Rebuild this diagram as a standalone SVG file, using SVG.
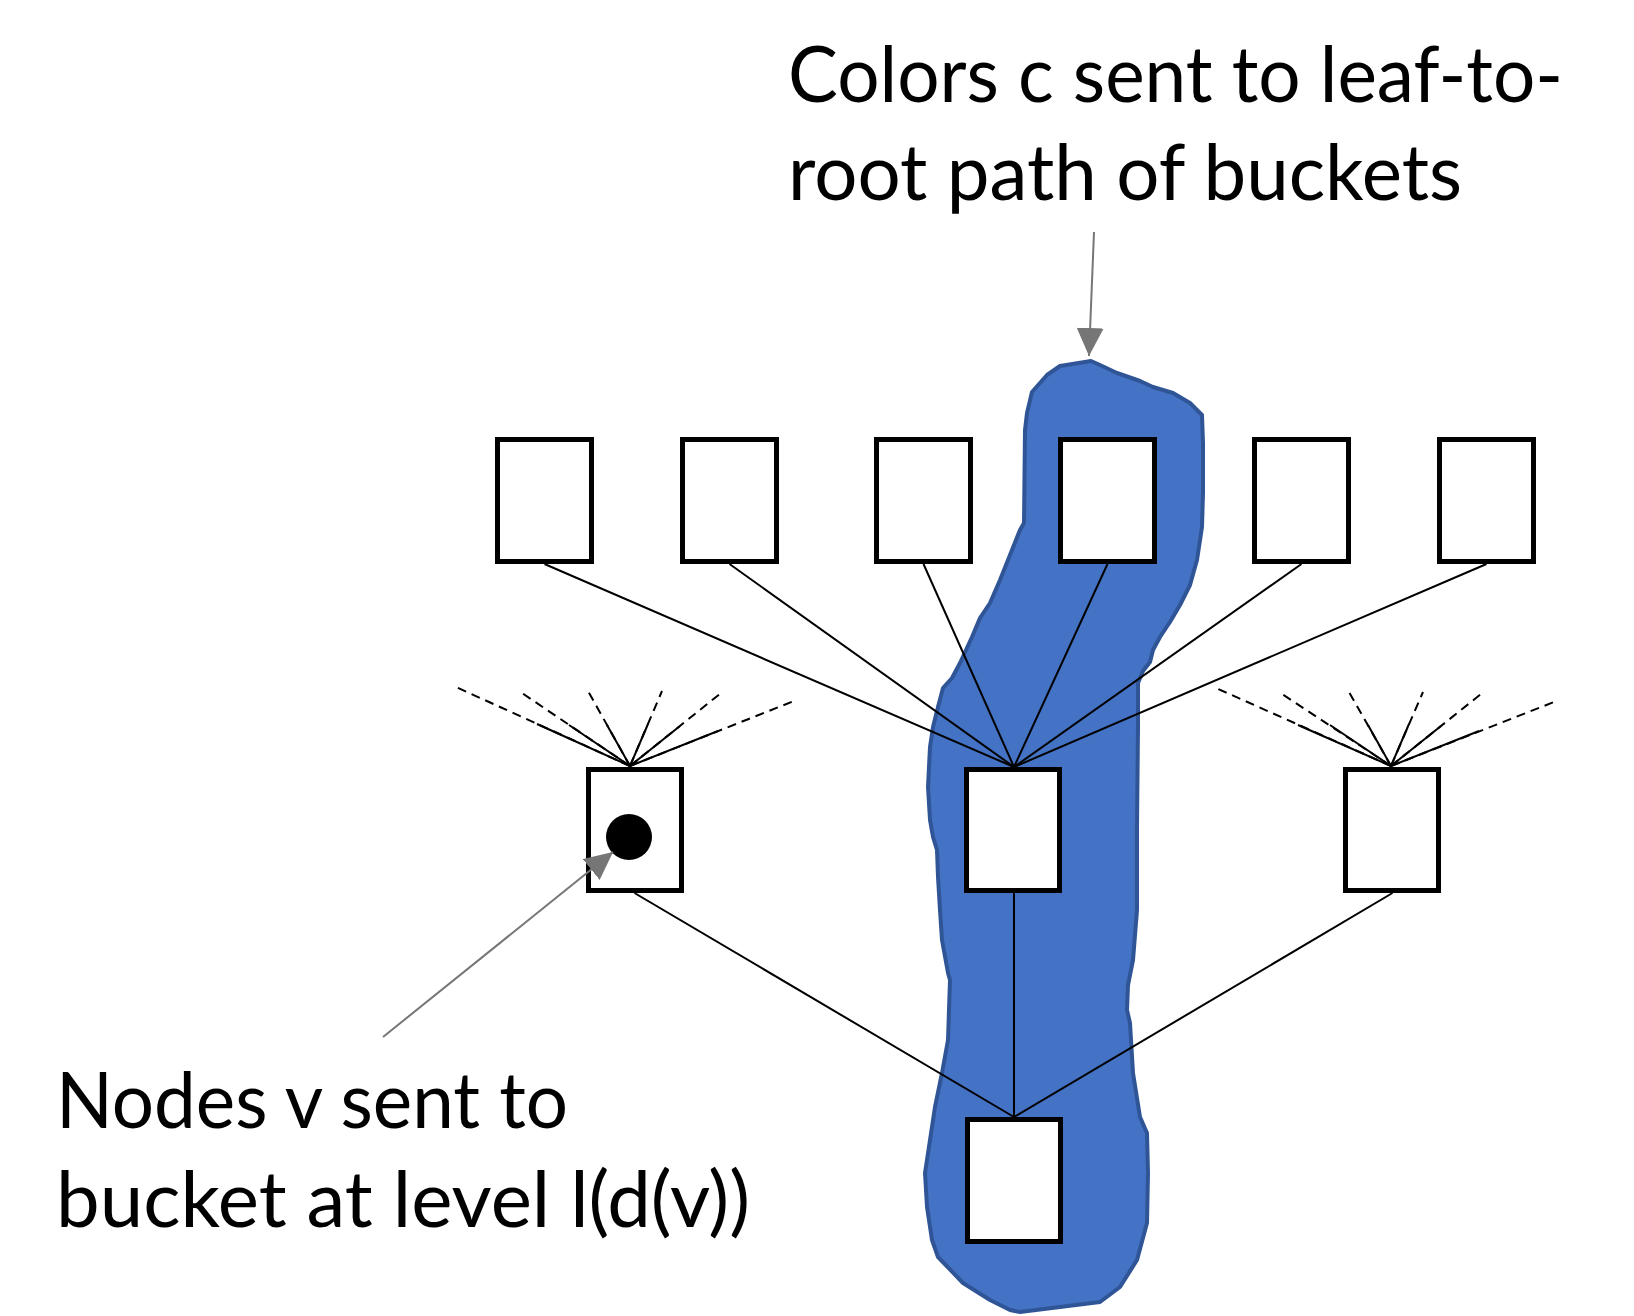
<svg xmlns="http://www.w3.org/2000/svg" width="1634" height="1316" viewBox="0 0 1634 1316">
<style>
.box{fill:#fff;stroke:#000;stroke-width:5}
.edge{stroke:#000;stroke-width:2;fill:none}
.dash{stroke:#000;stroke-width:2;fill:none;stroke-dasharray:9 6}
.lbl{font-family:Lato,"Open Sans","Liberation Sans",sans-serif;font-size:77px;fill:#000}
.ptr{stroke:#767676;stroke-width:2;fill:none}
</style>
<defs>
<marker id="ah" markerUnits="userSpaceOnUse" markerWidth="28" markerHeight="28" refX="28" refY="13.5" orient="auto">
<path d="M0,0 L28,13.5 L0,27 Z" fill="#767676"/>
</marker>
</defs>
<rect width="1634" height="1316" fill="#fff"/>
<g id="path-highlight">
<path d="M1091,361 L1100,365 L1117,373 L1140,381 L1153,387 L1173,393 L1190,403 L1202,415 L1203,443 L1203,493 L1202,527 L1197,560 L1190,585 L1180,605 L1170,622 L1160,637 L1153,650 L1150,662 L1143,671 L1138,683 L1138,727 L1137,827 L1137,910 L1133,960 L1128,985 L1127,1010 L1130,1023 L1133,1073 L1140,1117 L1147,1133 L1148,1173 L1147,1223 L1137,1260 L1120,1287 L1100,1302 L1020,1312 L1010,1310 L990,1300 L963,1283 L938,1257 L932,1240 L927,1207 L925,1173 L930,1140 L935,1107 L942,1073 L948,1040 L950,980 L948,973 L942,940 L940,910 L938,877 L937,850 L933,837 L930,820 L928,787 L930,747 L933,727 L938,707 L943,688 L952,678 L960,663 L972,637 L980,618 L990,603 L1000,580 L1010,555 L1020,530 L1024,523 L1025,430 L1027,413 L1032,392 L1047,375 L1060,366 Z" fill="#4472C4" stroke="#2F5597" stroke-width="4" stroke-linejoin="round"/>
</g>
<g id="connectors">
<line class="edge" x1="544.5" y1="564" x2="1014" y2="767"/>
<line class="edge" x1="729.5" y1="564" x2="1014" y2="767"/>
<line class="edge" x1="923.5" y1="564" x2="1014" y2="767"/>
<line class="edge" x1="1107.5" y1="564" x2="1014" y2="767"/>
<line class="edge" x1="1301.5" y1="564" x2="1014" y2="767"/>
<line class="edge" x1="1486.5" y1="564" x2="1014" y2="767"/>
<line class="edge" x1="634.5" y1="893" x2="1014" y2="1117"/>
<line class="edge" x1="1014" y1="893" x2="1014" y2="1117"/>
<line class="edge" x1="1392.5" y1="893" x2="1014" y2="1117"/>
<g id="fan-left">
<line class="dash" x1="630" y1="766" x2="456" y2="687"/>
<line class="dash" x1="630" y1="766" x2="519" y2="691"/>
<line class="dash" x1="630" y1="766" x2="588" y2="691"/>
<line class="dash" x1="630" y1="766" x2="662" y2="691"/>
<line class="dash" x1="630" y1="766" x2="721" y2="693"/>
<line class="dash" x1="630" y1="766" x2="794" y2="701"/>
<line class="edge" x1="630" y1="766" x2="537" y2="724"/>
<line class="edge" x1="630" y1="766" x2="569" y2="725"/>
<line class="edge" x1="630" y1="766" x2="607" y2="725"/>
<line class="edge" x1="630" y1="766" x2="648" y2="724"/>
<line class="edge" x1="630" y1="766" x2="680" y2="726"/>
<line class="edge" x1="630" y1="766" x2="718" y2="731"/>
</g>
<g id="fan-right">
<line class="dash" x1="1391" y1="766" x2="1216" y2="688"/>
<line class="dash" x1="1391" y1="766" x2="1279" y2="692"/>
<line class="dash" x1="1391" y1="766" x2="1349" y2="692"/>
<line class="dash" x1="1391" y1="766" x2="1423" y2="692"/>
<line class="dash" x1="1391" y1="766" x2="1481" y2="694"/>
<line class="dash" x1="1391" y1="766" x2="1554" y2="702"/>
<line class="edge" x1="1391" y1="766" x2="1298" y2="725"/>
<line class="edge" x1="1391" y1="766" x2="1330" y2="725"/>
<line class="edge" x1="1391" y1="766" x2="1368" y2="725"/>
<line class="edge" x1="1391" y1="766" x2="1409" y2="724"/>
<line class="edge" x1="1391" y1="766" x2="1441" y2="726"/>
<line class="edge" x1="1391" y1="766" x2="1479" y2="731"/>
</g>
</g>
<g id="leaf-1"><rect class="box" x="497.5" y="439.5" width="94" height="122"/></g>
<g id="leaf-2"><rect class="box" x="682.5" y="439.5" width="94" height="122"/></g>
<g id="leaf-3"><rect class="box" x="876.5" y="439.5" width="94" height="122"/></g>
<g id="leaf-4"><rect class="box" x="1060.5" y="439.5" width="94" height="122"/></g>
<g id="leaf-5"><rect class="box" x="1254.5" y="439.5" width="94" height="122"/></g>
<g id="leaf-6"><rect class="box" x="1439.5" y="439.5" width="94" height="122"/></g>
<g id="mid-left"><rect class="box" x="588.5" y="769.5" width="93" height="121"/><circle cx="629" cy="837" r="23" fill="#000"/></g>
<g id="mid-center"><rect class="box" x="966.5" y="769.5" width="93" height="121"/></g>
<g id="mid-right"><rect class="box" x="1345.5" y="769.5" width="93" height="121"/></g>
<g id="root"><rect class="box" x="967.5" y="1119.5" width="93" height="122"/></g>
<g id="pointers">
<line class="ptr" x1="1094" y1="232" x2="1089" y2="356" marker-end="url(#ah)"/>
<line class="ptr" x1="383" y1="1037" x2="613" y2="852" marker-end="url(#ah)"/>
</g>
<g id="label-colors">
<text class="lbl" x="788" y="102" textLength="775" lengthAdjust="spacingAndGlyphs">Colors c sent to leaf-to-</text>
<text class="lbl" x="788" y="200" textLength="674" lengthAdjust="spacingAndGlyphs">root path of buckets</text>
</g>
<g id="label-nodes">
<text class="lbl" x="56" y="1128" textLength="512" lengthAdjust="spacingAndGlyphs">Nodes v sent to</text>
<text class="lbl" x="56" y="1227" textLength="694" lengthAdjust="spacingAndGlyphs">bucket at level l(d(v))</text>
</g>
</svg>
